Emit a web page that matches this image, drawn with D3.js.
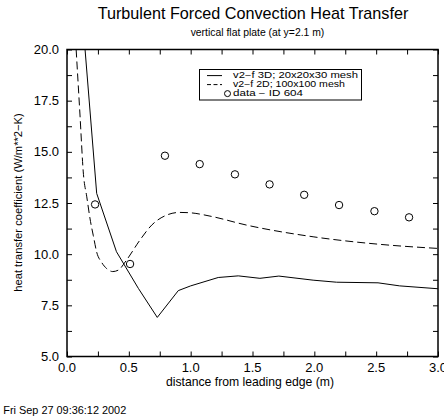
<!DOCTYPE html>
<html>
<head>
<meta charset="utf-8">
<script src="https://cdn.jsdelivr.net/npm/d3@7/dist/d3.min.js"></script>
<style>
  html, body { margin: 0; padding: 0; background: #fff; }
  svg { display: block; font-family: "Liberation Sans", Arial, Helvetica, sans-serif; }
</style>
</head>
<body>
<svg id="chart" width="444" height="418"></svg>
<script>
// v2-f 3D model, 20x20x30 mesh
const v2f3dX = [0.146, 0.24, 0.40, 0.577, 0.73, 0.90, 1.00, 1.223, 1.385, 1.56, 1.713, 1.99, 2.18, 2.515, 2.69, 3.0];
const v2f3dY = [20.0, 12.97, 10.12, 8.33, 6.91, 8.22, 8.45, 8.86, 8.94, 8.82, 8.93, 8.73, 8.63, 8.60, 8.45, 8.31];

// v2-f 2D model, 100x100 mesh
const v2f2dX = [0.074, 0.105, 0.133, 0.16, 0.19, 0.213, 0.24, 0.28, 0.32, 0.37, 0.415, 0.48, 0.59, 0.685, 0.806, 0.91, 1.0, 1.156, 1.452, 1.99, 2.53, 3.0];
const v2f2dY = [20.0, 16.8, 13.9, 12.8, 11.6, 10.9, 10.1, 9.6, 9.3, 9.15, 9.22, 9.7, 10.69, 11.42, 11.91, 12.04, 12.02, 11.86, 11.42, 10.85, 10.48, 10.28];

// Measured data, ID 604
const dataX = [0.227, 0.51, 0.792, 1.073, 1.358, 1.638, 1.918, 2.20, 2.486, 2.766];
const dataY = [12.43, 9.52, 14.81, 14.40, 13.90, 13.41, 12.90, 12.40, 12.10, 11.80];

const xMajorTicks = [0.0, 0.5, 1.0, 1.5, 2.0, 2.5, 3.0];
const xMinorTicks = [0.25, 0.75, 1.25, 1.75, 2.25, 2.75];
const yMajorTicks = [5.0, 7.5, 10.0, 12.5, 15.0, 17.5, 20.0];
const yMinorTicks = [6.25, 8.75, 11.25, 13.75, 16.25, 18.75];

const legendLabels = ["v2\u2212f 3D; 20x20x30 mesh", "v2\u2212f 2D; 100x100 mesh", "data \u2212 ID 604"];

const titleText = "Turbulent Forced Convection Heat Transfer";
const subtitleText = "vertical flat plate (at y=2.1 m)";
const xLabelText = "distance from leading edge (m)";
const yLabelText = "heat transfer coefficient (W/m**2\u2212K)";
const stampText = "Fri Sep 27 09:36:12 2002";

const svg = d3.select("#chart");
const plot = { left: 67, right: 438, top: 49.5, bottom: 356.5 };

const x = d3.scaleLinear().domain([0, 3]).range([plot.left, plot.right]);
const y = d3.scaleLinear().domain([5, 20]).range([plot.bottom, plot.top]);

const tickLen = 5;
const allX = xMajorTicks.concat(xMinorTicks);
const allY = yMajorTicks.concat(yMinorTicks);

// inward ticks on all four sides
const bottomAxis = d3.axisBottom(x).tickValues(allX).tickSize(-tickLen).tickFormat("");
const topAxis = d3.axisTop(x).tickValues(allX).tickSize(-tickLen).tickFormat("");
const leftAxis = d3.axisLeft(y).tickValues(allY).tickSize(-tickLen).tickFormat("");
const rightAxis = d3.axisRight(y).tickValues(allY).tickSize(-tickLen).tickFormat("");

function styleAxis(g) {
  g.select(".domain").remove();
  g.selectAll(".tick line").attr("stroke", "#000").attr("stroke-width", 1);
}

svg.append("g").attr("transform", `translate(0,${plot.bottom})`).call(bottomAxis).call(styleAxis);
svg.append("g").attr("transform", `translate(0,${plot.top})`).call(topAxis).call(styleAxis);
svg.append("g").attr("transform", `translate(${plot.left},0)`).call(leftAxis).call(styleAxis);
svg.append("g").attr("transform", `translate(${plot.right},0)`).call(rightAxis).call(styleAxis);

// tick labels
svg.append("g").selectAll("text").data(xMajorTicks).join("text")
  .attr("x", d => x(d)).attr("y", 371.5)
  .attr("text-anchor", "middle").attr("font-size", 13).attr("fill", "#000")
  .text(d => d.toFixed(1));

svg.append("g").selectAll("text").data(yMajorTicks).join("text")
  .attr("x", 59).attr("y", d => y(d)).attr("dy", "0.35em")
  .attr("text-anchor", "end").attr("font-size", 13).attr("fill", "#000")
  .text(d => d.toFixed(1));

// clipped data area
svg.append("clipPath").attr("id", "clip")
  .append("rect").attr("x", plot.left).attr("y", plot.top)
  .attr("width", plot.right - plot.left).attr("height", plot.bottom - plot.top);

const area = svg.append("g").attr("clip-path", "url(#clip)");

const solidLine = d3.line().x(d => x(d[0])).y(d => y(d[1]));
const dashedLine = d3.line().x(d => x(d[0])).y(d => y(d[1])).curve(d3.curveMonotoneX);

area.append("path")
  .datum(d3.zip(v2f3dX, v2f3dY))
  .attr("d", solidLine)
  .attr("fill", "none").attr("stroke", "#000").attr("stroke-width", 1);

area.append("path")
  .datum(d3.zip(v2f2dX, v2f2dY))
  .attr("d", dashedLine)
  .attr("fill", "none").attr("stroke", "#000").attr("stroke-width", 1)
  .attr("stroke-dasharray", "8,4");

svg.append("g").selectAll("circle").data(d3.zip(dataX, dataY)).join("circle")
  .attr("cx", d => x(d[0])).attr("cy", d => y(d[1])).attr("r", 3.7)
  .attr("fill", "none").attr("stroke", "#000").attr("stroke-width", 1);

// frame
svg.append("rect")
  .attr("x", plot.left).attr("y", plot.top)
  .attr("width", plot.right - plot.left).attr("height", plot.bottom - plot.top)
  .attr("fill", "none").attr("stroke", "#000").attr("stroke-width", 1.5);

// legend: short, wide lettering stretched to a fixed run length
const lg = svg.append("g");
lg.append("rect").attr("x", 199.5).attr("y", 69.5).attr("width", 162).attr("height", 30.5)
  .attr("fill", "#fff").attr("stroke", "#000").attr("stroke-width", 1);
const rowY = [75.6, 84.6, 93.6];
const rowWidths = [125, 112, 70];
lg.append("line").attr("x1", 207).attr("x2", 222).attr("y1", rowY[0]).attr("y2", rowY[0])
  .attr("stroke", "#000").attr("stroke-width", 1);
lg.append("line").attr("x1", 207).attr("x2", 222).attr("y1", rowY[1]).attr("y2", rowY[1])
  .attr("stroke", "#000").attr("stroke-width", 1).attr("stroke-dasharray", "4,2.5");
lg.append("circle").attr("cx", 227.5).attr("cy", rowY[2]).attr("r", 3)
  .attr("fill", "none").attr("stroke", "#000").attr("stroke-width", 1);
lg.selectAll("text.lab").data(legendLabels).join("text").attr("class", "lab")
  .attr("x", 233).attr("y", (d, i) => rowY[i]).attr("dy", "0.35em")
  .attr("font-size", 8.2).attr("fill", "#000")
  .attr("textLength", (d, i) => rowWidths[i]).attr("lengthAdjust", "spacingAndGlyphs")
  .text(d => d);

// titles and labels
svg.append("text").attr("x", 253).attr("y", 18.5).attr("text-anchor", "middle")
  .attr("font-size", 16.2).attr("fill", "#000").text(titleText);
svg.append("text").attr("x", 257.5).attr("y", 36).attr("text-anchor", "middle")
  .attr("font-size", 10.4).attr("fill", "#000").text(subtitleText);
svg.append("text").attr("x", 250).attr("y", 386).attr("text-anchor", "middle")
  .attr("font-size", 12.2).attr("fill", "#000").text(xLabelText);
svg.append("text").attr("transform", "translate(22,202.5) rotate(-90)").attr("text-anchor", "middle")
  .attr("font-size", 11.2).attr("fill", "#000").text(yLabelText);
svg.append("text").attr("x", 3.3).attr("y", 414.3)
  .attr("font-size", 10.9).attr("fill", "#000").text(stampText);
</script>
</body>
</html>
